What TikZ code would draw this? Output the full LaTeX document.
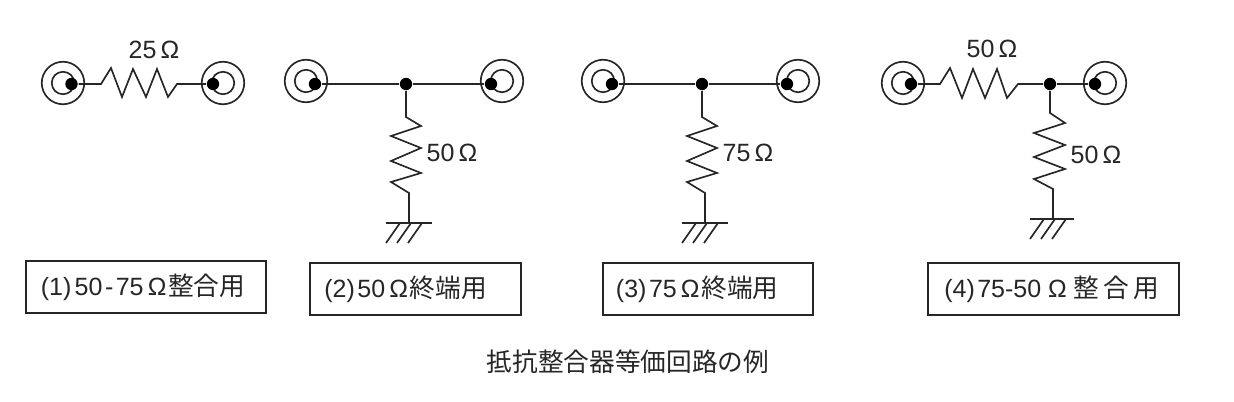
\documentclass[tikz,border=0pt]{standalone}
\usepackage{fontspec}
\setmainfont{Liberation Sans}
\newfontfamily\cjk{Noto Sans CJK JP}
\usepackage{tikz}
\newcommand{\jp}[1]{{\fontsize{15.4}{15.4}\selectfont\cjk #1}}
\newcommand{\ohm}{\hspace{2.5pt}Ω\hspace{1pt}}

\begin{document}
\begin{tikzpicture}[x=0.6pt, y=-0.6pt, line width=1pt, color=black!85,
  outer/.style = {draw, circle, minimum size=25.5pt, inner sep=0pt},
  inner/.style = {draw, circle, minimum size=13.5pt, inner sep=0pt},
  dot/.style = {fill=black, circle, minimum size=7.4pt, inner sep=0pt},
  label/.style = {font=\fontsize{15}{15}\selectfont, inner sep=0pt},
  tag/.style = {draw, font=\fontsize{15}{15}\selectfont, minimum height=31.2pt, inner sep=0pt}]
\useasboundingbox (0,0) rectangle (1234,402);

% (1)
\node[outer] (A1) at (63,83) {}; \node[inner] at (A1) {};
\node[outer] (B1) at (223,83) {}; \node[inner] at (B1) {};
\node[dot] (a1) at (71.5,84) {};
\node[dot] (b1) at (213,84) {};
\coordinate (r1s) at (101,84);
\coordinate (r1e) at (177,84);
\draw (a1) -- (r1s) -- (111,68) -- (122,97) -- (133,69) -- (146,97) -- (157,69) -- (168,97) -- (r1e) -- (b1);
\node[label] (v1) at (154,50) {25\ohm};

% (2)
\node[outer] (A2) at (306,81) {}; \node[inner] at (A2) {};
\node[outer] (B2) at (502,81) {}; \node[inner] at (B2) {};
\node[dot] (a2) at (315,84) {};
\node[dot] (b2) at (491,84) {};
\node[dot] (j2) at (406,84) {};
\coordinate (r2s) at (406,117);
\coordinate (r2e) at (409,193);
\coordinate (g2) at (409,223);
\draw (a2) -- (j2) -- (b2);
\draw (j2) -- (r2s) -- (421,126) -- (391,136) -- (421,148) -- (391,161) -- (421,173) -- (391,182) -- (r2e) -- (g2);
\draw (386,223) -- (g2) -- (432,223);
\foreach \x in {400,411,422} \draw (\x,223) -- (\x-14,243);
\node[label] (v2) at (452,153) {50\ohm};

% (3)
\node[outer] (A3) at (603,81) {}; \node[inner] at (A3) {};
\node[outer] (B3) at (798,81) {}; \node[inner] at (B3) {};
\node[dot] (a3) at (612,84) {};
\node[dot] (b3) at (787,84) {};
\node[dot] (j3) at (702,84) {};
\coordinate (r3s) at (702,117);
\coordinate (r3e) at (705,193);
\coordinate (g3) at (705,223);
\draw (a3) -- (j3) -- (b3);
\draw (j3) -- (r3s) -- (717,126) -- (687,136) -- (717,148) -- (687,161) -- (717,173) -- (687,182) -- (r3e) -- (g3);
\draw (682,223) -- (g3) -- (728,223);
\foreach \x in {696,707,718} \draw (\x,223) -- (\x-14,243);
\node[label] (v3) at (748,153) {75\ohm};

% (4)
\node[outer] (A4) at (903,83) {}; \node[inner] at (A4) {};
\node[outer] (B4) at (1105,83) {}; \node[inner] at (B4) {};
\node[dot] (a4) at (911,84) {};
\node[dot] (b4) at (1095,84) {};
\node[dot] (j4) at (1050,84) {};
\coordinate (r4s) at (940,84);
\coordinate (r4e) at (1018,84);
\coordinate (r5s) at (1050,113);
\coordinate (r5e) at (1053,189);
\coordinate (g4) at (1053,219);
\draw (a4) -- (r4s) -- (950,68) -- (962,98) -- (973,69) -- (985,98) -- (997,69) -- (1007,98) -- (r4e) -- (j4) -- (b4);
\draw (j4) -- (r5s) -- (1065,123) -- (1034,133) -- (1065,145) -- (1034,157) -- (1065,169) -- (1034,179) -- (r5e) -- (g4);
\draw (1030,219) -- (g4) -- (1074,219);
\foreach \x in {1044,1055,1066} \draw (\x,219) -- (\x-14,239);
\node[label] (v4) at (992,49) {50\ohm};
\node[label] (v5) at (1096,155) {50\ohm};

% labels
\node[tag, minimum width=144pt] (t1) at (146,287) {(1)\kern2pt 50\kern1.5pt-\kern1.5pt 75\ohm\jp{整合用}\kern3.6pt};
\node[tag, minimum width=126.6pt] (t2) at (415.5,289) {(2)\kern1.5pt 50\ohm\jp{終端用}\kern12pt};
\node[tag, minimum width=126pt] (t3) at (708,289) {(3)\kern1.5pt 75\ohm\jp{終端用}\kern13pt};
\node[tag, minimum width=150.6pt] (t4) at (1053.5,289) {(4)\kern1.5pt 75-50 Ω \jp{整\,合\,用}\kern2pt};
\node[label] (cap) at (628,362) {\jp{抵抗整合器等価回路の例}};
\end{tikzpicture}
\end{document}
